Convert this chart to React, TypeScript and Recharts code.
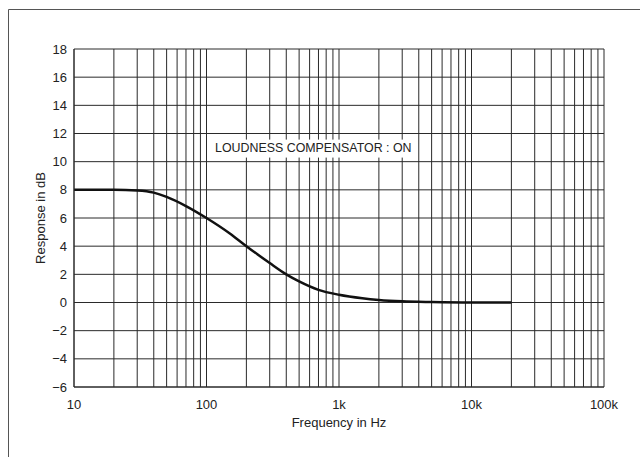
import React from 'react';
import {
    LineChart, Line, XAxis, YAxis, CartesianGrid, Label, ReferenceDot
} from 'recharts';

// gridlines: every 1..9 step inside each decade, 10 Hz to 100 kHz
const freqTicks = [
    10, 20, 30, 40, 50, 60, 70, 80, 90,
    100, 200, 300, 400, 500, 600, 700, 800, 900,
    1000, 2000, 3000, 4000, 5000, 6000, 7000, 8000, 9000,
    10000, 20000, 30000, 40000, 50000, 60000, 70000, 80000, 90000,
    100000
];
const decadeLabels: Record<number, string> = { 10: '10', 100: '100', 1000: '1k', 10000: '10k', 100000: '100k' };
const dbTicks = [-6, -4, -2, 0, 2, 4, 6, 8, 10, 12, 14, 16, 18];

// loudness compensator response
const freqs = [10, 15, 20, 30, 40, 50, 70, 100, 150, 200, 300, 400, 500, 700, 1000, 1500, 2000, 3000, 5000, 10000, 20000];
const response = [8, 8, 8, 7.95, 7.8, 7.5, 6.85, 6, 4.9, 4, 2.8, 2, 1.5, 0.9, 0.55, 0.3, 0.18, 0.08, 0.03, 0, 0];

const data = freqs.map((f, i) => ({ f, db: response[i] }));

const FONT = '"Liberation Sans", Arial, sans-serif';
const tickStyle = { fontSize: 13, fill: '#222', fontFamily: FONT };

const NoteLabel = (props: any) => {
    const { viewBox } = props;
    const cx = viewBox.x;
    const cy = viewBox.y;
    return (
        <g>
            <rect x={cx - 102} y={cy - 8} width={204} height={18} fill="#fff" />
            <text x={cx} y={cy + 1} textAnchor="middle" dominantBaseline="middle"
                style={{ fontSize: 12.4, fontFamily: FONT, fill: '#222' }}>
                LOUDNESS COMPENSATOR : ON
            </text>
        </g>
    );
};

export default function App() {
    return (
        <div style={{ position: 'absolute', left: 0, top: 0, width: 640, height: 457, background: '#fff', overflow: 'hidden' }}>
            <svg width={640} height={457} style={{ position: 'absolute', left: 0, top: 0 }}>
                <line x1={8.5} y1={9.5} x2={640} y2={9.5} stroke="#555" strokeWidth={1} />
                <line x1={8.5} y1={9.5} x2={8.5} y2={457} stroke="#555" strokeWidth={1} />
            </svg>
            <LineChart
                width={640}
                height={457}
                data={data}
                margin={{ top: 49, right: 36, bottom: 40, left: 14 }}
                style={{ position: 'absolute', left: 0, top: 0 }}
            >
                <CartesianGrid stroke="#2a2a2a" strokeWidth={1} />
                <XAxis
                    dataKey="f"
                    type="number"
                    scale="log"
                    domain={[10, 100000]}
                    ticks={freqTicks}
                    interval={0}
                    tickFormatter={(v: number) => decadeLabels[v] ?? ''}
                    tickLine={false}
                    axisLine={{ stroke: '#2a2a2a' }}
                    tick={tickStyle}
                    tickMargin={7}
                    height={30}
                    allowDataOverflow
                >
                    <Label value="Frequency in Hz" position="bottom" offset={1}
                        style={{ fontSize: 13, fontFamily: FONT, fill: '#222' }} />
                </XAxis>
                <YAxis
                    type="number"
                    domain={[-6, 18]}
                    ticks={dbTicks}
                    interval={0}
                    tickFormatter={(v: number) => (v < 0 ? '\u2212' + Math.abs(v) : String(v))}
                    tickLine={false}
                    axisLine={{ stroke: '#2a2a2a' }}
                    tick={tickStyle}
                    tickMargin={1}
                    width={60}
                >
                    <Label value="Response in dB" position="insideLeft" angle={-90} offset={26}
                        style={{ fontSize: 13, fontFamily: FONT, fill: '#222', textAnchor: 'middle' }} />
                </YAxis>
                <ReferenceDot x={640} y={11} r={0} fill="none" stroke="none" label={<NoteLabel />} />
                <Line
                    type="monotone"
                    dataKey="db"
                    stroke="#111"
                    strokeWidth={2.5}
                    dot={false}
                    isAnimationActive={false}
                />
            </LineChart>
        </div>
    );
}
